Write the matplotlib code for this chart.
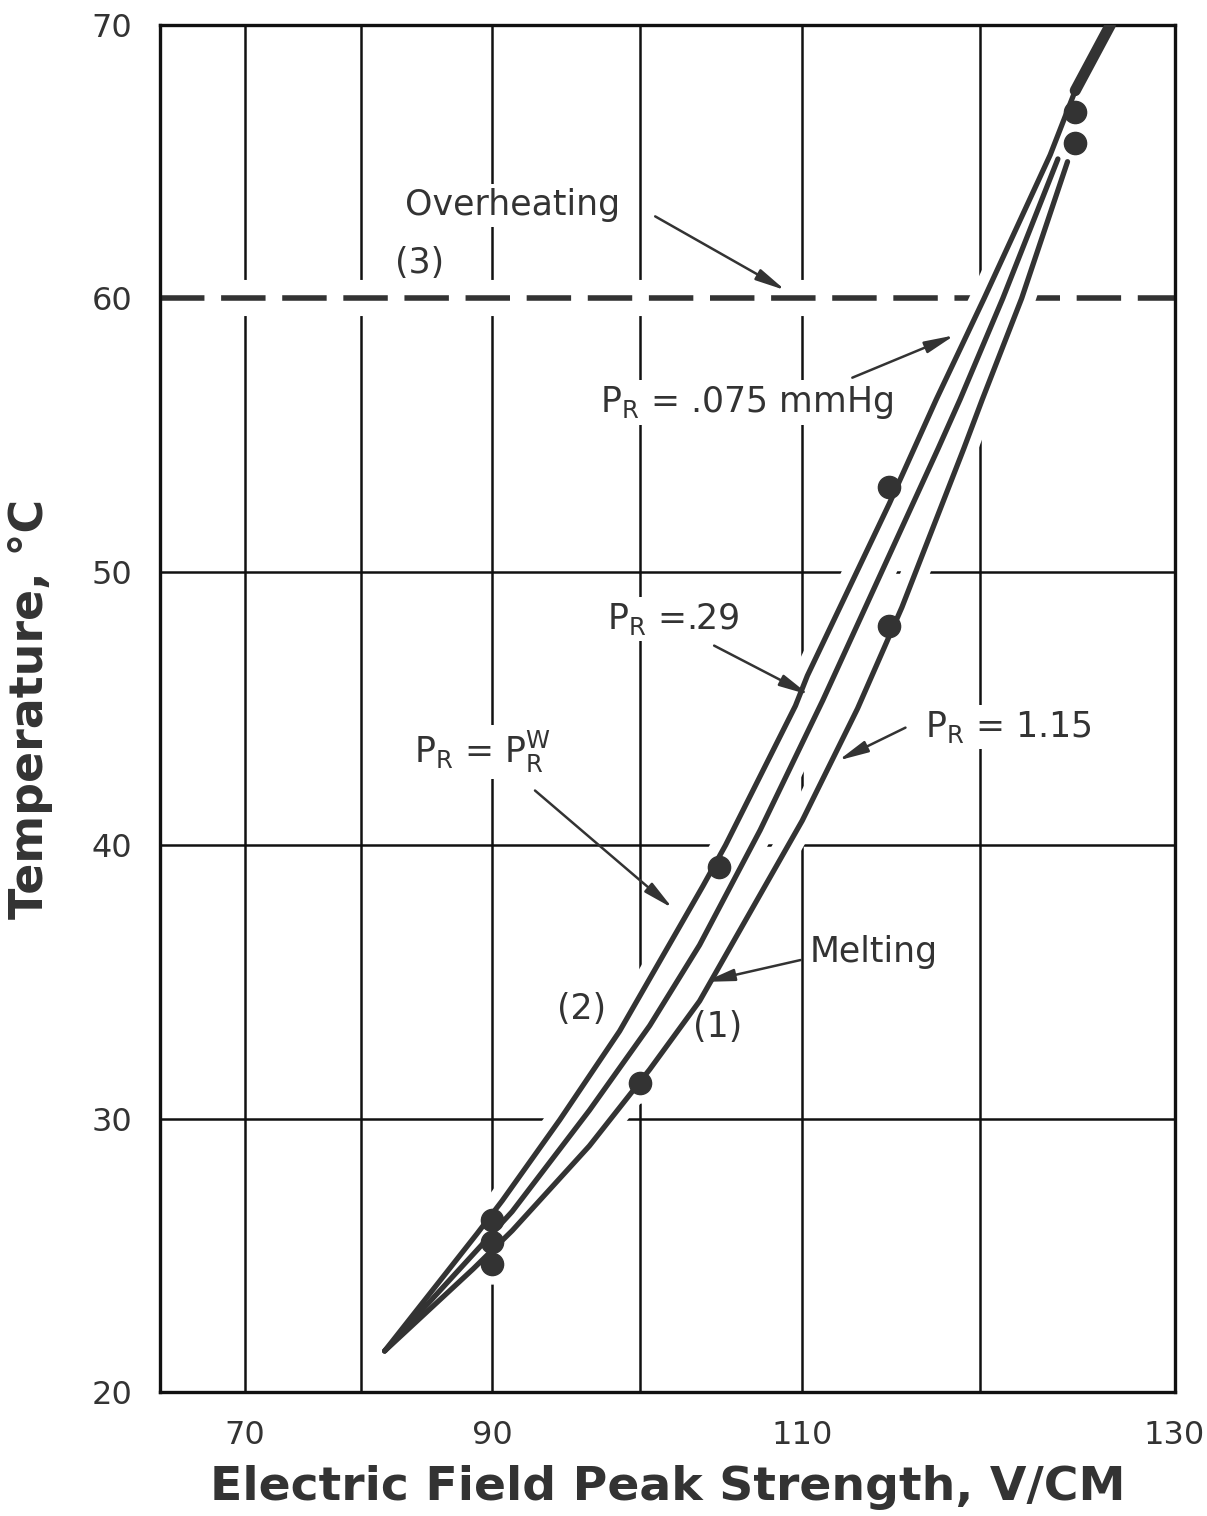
import numpy as np
import matplotlib
matplotlib.use('Agg')
import matplotlib.pyplot as plt

plt.rcParams['font.family'] = ['DejaVu Sans']
plt.rcParams['mathtext.default'] = 'regular'

# curves: electric field (V/cm) vs temperature (C)
left_E = [81.9, 88.9, 90.7, 94.7, 98.7, 104.0, 105.4, 109.6, 110.3, 115.0,
          117.6, 120.2, 123.7, 125.0, 126.8]
left_T = [21.5, 25.8, 27.0, 29.95, 33.2, 38.5, 40.0, 45.1, 46.2, 52.5,
          56.3, 60.0, 65.25, 67.6, 70.0]

mid_E = [81.9, 88.9, 91.4, 96.7, 100.65, 103.8, 107.5, 111.2, 117.7, 118.9, 121.2, 124.1]
mid_T = [21.5, 25.2, 26.6, 30.3, 33.4, 36.35, 40.55, 45.3, 54.5, 56.3, 60.0, 65.1]

right_E = [81.9, 88.6, 91.4, 96.7, 100.65, 103.8, 110.0, 113.2, 115.7,
           119.1, 120.1, 122.2, 124.6]
right_T = [21.5, 24.5, 25.9, 29.0, 31.8, 34.3, 40.9, 45.0, 48.7,
           54.5, 56.3, 60.0, 65.0]

# measured points
pt_E = [90, 90, 90, 100, 105, 115, 115, 125, 125]
pt_T = [26.3, 25.5, 24.7, 31.3, 39.2, 53.1, 48.0, 66.8, 65.7]

overheat_T = 60
xgrid = [70, 80, 90, 100, 110, 120]
ygrid = [30, 40, 50]
xticks = [70, 90, 110, 130]
yticks = [20, 30, 40, 50, 60, 70]

dark = '#333333'

fig = plt.figure(figsize=(12.07, 15.16), dpi=100)
ax = fig.add_axes([160 / 1207, 1 - 1392 / 1516, 1015 / 1207, 1367 / 1516])

# x axis is drawn on a square scale
ax.set_xscale('function', functions=(lambda x: np.asarray(x) ** 2,
                                     lambda x: np.sqrt(np.clip(x, 0, None))))
ax.set_xlim(61.7, 130.05)
ax.set_ylim(20, 70)

# grid
for g in xgrid:
    ax.axvline(g, color='#111111', lw=1.8, zorder=1)
for g in ygrid:
    ax.axhline(g, color='#111111', lw=1.8, zorder=1)

# overheating line
ax.axhline(overheat_T, color='white', lw=26, zorder=1.5)
ax.axhline(overheat_T, color=dark, lw=4, ls=(0, (8, 3)), zorder=1.8)

# curves, white underlay first so the grid breaks around them
curves = [(left_E, left_T), (mid_E, mid_T), (right_E, right_T)]
for E, T in curves:
    ax.plot(E, T, color='white', lw=20, solid_capstyle='round', zorder=2)
ax.plot(pt_E, pt_T, 'o', color='white', ms=28, zorder=2.6)
for E, T in curves:
    ax.plot(E, T, color=dark, lw=3.8, solid_capstyle='round',
            solid_joinstyle='round', zorder=3)
ax.plot(left_E[-2:], left_T[-2:], color=dark, lw=8, solid_capstyle='round', zorder=3)
ax.plot(pt_E, pt_T, 'o', color=dark, ms=16, zorder=4)

# labels and arrows
box = dict(facecolor='white', edgecolor='none', pad=3)
aprops = dict(arrowstyle='-|>,head_length=0.9,head_width=0.18', mutation_scale=20,
              color=dark, lw=1.8, shrinkA=0, shrinkB=0)
tkw = dict(fontsize=25, color=dark, bbox=box, zorder=2.4)

ax.text(91.4, 63.4, 'Overheating', ha='center', va='center', **tkw)
ax.annotate('', xy=(109.0, 60.3), xytext=(101.0, 63.0), arrowprops=aprops, zorder=5)
ax.text(84.6, 61.3, '(3)', ha='center', va='center', **tkw)

ax.text(97.4, 55.85, '$P_R$ = .075 mmHg', ha='left', va='baseline', **tkw)
ax.annotate('', xy=(118.6, 58.65), xytext=(112.9, 57.1), arrowprops=aprops, zorder=5)

ax.text(97.9, 47.9, '$P_R$ =.29', ha='left', va='baseline', **tkw)
ax.annotate('', xy=(110.4, 45.5), xytext=(104.7, 47.3), arrowprops=aprops, zorder=5)

ax.text(84.2, 43.0, '$P_R$ = $P_R^W$', ha='left', va='baseline', **tkw)
ax.annotate('', xy=(102.1, 37.7), xytext=(93.0, 42.0), arrowprops=aprops, zorder=5)

ax.text(117.0, 43.95, '$P_R$ = 1.15', ha='left', va='baseline', **tkw)
ax.annotate('', xy=(112.1, 43.1), xytext=(115.9, 44.3), arrowprops=aprops, zorder=5)

ax.text(110.45, 36.1, 'Melting', ha='left', va='center', **tkw)
ax.annotate('', xy=(104.1, 35.0), xytext=(109.9, 35.8), arrowprops=aprops, zorder=5)

ax.text(96.2, 34.0, '(2)', ha='center', va='center', **tkw)
ax.text(104.9, 33.35, '(1)', ha='center', va='center', **tkw)

# axes
ax.set_xticks(xticks)
ax.set_yticks(yticks)
ax.tick_params(length=0, labelsize=23, colors=dark)
ax.tick_params(axis='x', pad=20)
ax.tick_params(axis='y', pad=20)
for s in ax.spines.values():
    s.set_linewidth(2.4)
    s.set_color('#111111')

ax.set_xlabel('Electric Field Peak Strength, V/CM', fontsize=34, fontweight='bold',
              color=dark, labelpad=10)
ax.set_ylabel('Temperature, °C', fontsize=33, fontweight='bold', color=dark)
ax.yaxis.set_label_coords(-0.105, 0.5)

fig.savefig('out.png', dpi=100)
